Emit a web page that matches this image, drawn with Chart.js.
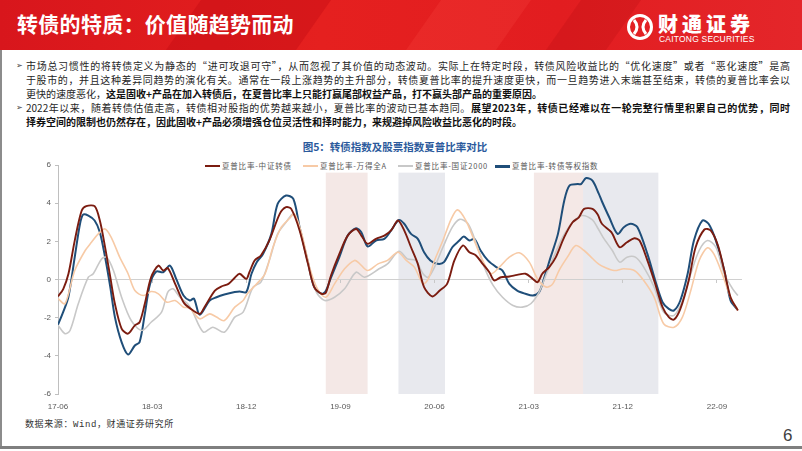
<!DOCTYPE html>
<html>
<head>
<meta charset="utf-8">
<script src="https://cdn.jsdelivr.net/npm/chart.js@4.4.1/dist/chart.umd.min.js"></script>
<style>
  body { margin: 0; width: 802px; height: 451px; position: relative; overflow: hidden; background: #fff;
         font-family: "Noto Sans CJK SC", "Noto Sans", sans-serif; }
  .banner { position: absolute; left: 0; top: 0; width: 802px; height: 50px; overflow: hidden;
            background: linear-gradient(90deg, #d8161c 0%, #e5201f 40%, #e21d20 70%, #e4262a 100%); }
  .banner .shape { position: absolute; top: -10px; height: 80px; transform: skewX(-35deg); }
  .banner h1 { position: absolute; left: 17px; top: 8px; margin: 0; font-size: 21px; font-weight: 700;
               color: #fff; letter-spacing: 0.3px; }
  .logo-cn { position: absolute; left: 658px; top: 9px; font-size: 20px; font-weight: 900; color: #fff; letter-spacing: 4px; }
  .logo-en { position: absolute; left: 659px; top: 34px; font-family: "Liberation Sans", Arial, sans-serif;
             font-size: 8.5px; color: #fff; letter-spacing: 0.2px; }
  .frame-left { position: absolute; left: 0; top: 50px; width: 2px; height: 398px; background: #8c8c8c; }
  .frame-bottom { position: absolute; left: 0; top: 446px; width: 802px; height: 3px; background: #7f7f7f; }
  .text { position: absolute; left: 26px; width: 764px; font-size: 10px; color: #262626; white-space: nowrap; line-height: 14px; }
  .text.full { text-align: justify; text-align-last: justify; }
  .text b { font-weight: 700; color: #111; }
  .bullet { position: absolute; left: 16px; font-size: 8px; color: #404040; }
  .ctitle { position: absolute; left: 0; width: 790px; top: 139px; text-align: center; font-size: 10.5px;
            font-weight: 700; color: #2b5a9c; }
  .legend { position: absolute; top: 160px; font-size: 7.5px; color: #595959; letter-spacing: 0.8px; line-height: 12px; }
  .legend i { position: absolute; left: -17px; top: 5px; width: 15px; height: 2px; }
  .source { position: absolute; left: 25px; top: 417px; font-size: 9px; color: #333; letter-spacing: 0.6px;
            font-family: "Liberation Mono", "Noto Sans CJK SC", monospace; }
  .page { position: absolute; left: 783px; top: 426px; font-family: "Liberation Sans", Arial, sans-serif;
          font-size: 17px; color: #404040; }
  #wrap { position: absolute; left: 0; top: 155px; width: 745px; height: 259px; }
</style>
</head>
<body>
<div class="banner">
  <div class="shape" style="left:180px;width:130px;background:rgba(190,10,16,0.35)"></div>
  <div class="shape" style="left:420px;width:90px;background:rgba(255,90,80,0.18)"></div>
  <div class="shape" style="left:560px;width:60px;background:rgba(180,10,14,0.25)"></div>
  <h1>转债的特质：价值随趋势而动</h1>
  <svg style="position:absolute;left:626px;top:13px" width="28" height="28" viewBox="0 0 28 28">
    <circle cx="14" cy="14" r="11.5" fill="none" stroke="#fff" stroke-width="3"/>
    <path d="M8 7 Q14 14 8 21 M20 7 Q14 14 20 21" fill="none" stroke="#fff" stroke-width="3"/>
  </svg>
  <div class="logo-cn">财通证券</div>
  <div class="logo-en">CAITONG SECURITIES</div>
</div>
<div class="frame-left"></div>
<div class="frame-bottom"></div>

<div class="bullet" style="top:59px">➢</div>
<div class="text full" style="top:59px">市场总习惯性的将转债定义为静态的“进可攻退可守”，从而忽视了其价值的动态波动。实际上在特定时段，转债风险收益比的“优化速度”或者“恶化速度”是高</div>
<div class="text full" style="top:73px">于股市的，并且这种差异同趋势的演化有关。通常在一段上涨趋势的主升部分，转债夏普比率的提升速度更快，而一旦趋势进入末端甚至结束，转债的夏普比率会以</div>
<div class="text" style="top:87px">更快的速度恶化，<b>这是固收+产品在加入转债后，在夏普比率上只能打赢尾部权益产品，打不赢头部产品的重要原因。</b></div>
<div class="bullet" style="top:101px">➢</div>
<div class="text full" style="top:101px">2022年以来，随着转债估值走高，转债相对股指的优势越来越小，夏普比率的波动已基本趋同。<b>展望2023年，转债已经难以在一轮完整行情里积累自己的优势，同时</b></div>
<div class="text" style="top:115px"><b>择券空间的限制也仍然存在，因此固收+产品必须增强仓位灵活性和择时能力，来规避掉风险收益比恶化的时段。</b></div>

<div class="ctitle">图5：转债指数及股票指数夏普比率对比</div>
<div class="legend" style="left:222px"><i style="background:#7b1c10"></i>夏普比率-中证转债</div>
<div class="legend" style="left:320px"><i style="background:#f7caa6"></i>夏普比率-万得全A</div>
<div class="legend" style="left:415px"><i style="background:#c8c8c8"></i>夏普比率-国证2000</div>
<div class="legend" style="left:512px"><i style="background:#1f4e79;height:2.5px"></i>夏普比率-转债等权指数</div>

<div id="wrap"><canvas id="chart" width="745" height="259"></canvas></div>
<div class="source">数据来源：Wind，财通证券研究所</div>
<div class="page">6</div>

<script>
// x values are months counted from 2017-06
const tickMonths = [0, 9, 18, 27, 36, 45, 54, 63];
const tickLabels = ["17-06", "18-03", "18-12", "19-09", "20-06", "21-03", "21-12", "22-09"];
const xMin = 0;
const xMax = 65.3;

// shaded periods
const bandStarts = [25.6, 32.55, 45.5, 50.2];
const bandEnds = [29.6, 37.0, 50.2, 57.4];
const bandColors = ["#f4e8e6", "#e8e9ee", "#f4e8e6", "#e8e9ee"];
const bandTop = 5.6;
const bandBottom = -6;

const seriesNames = ["夏普比率-中证转债", "夏普比率-万得全A", "夏普比率-国证2000", "夏普比率-转债等权指数"];

const cbX = [0, 0.5, 1.0, 1.6, 2.26, 2.7, 3.5, 4.0, 4.5, 5.0, 5.44, 6.08, 6.7, 7.35, 7.8, 8.3, 8.9, 9.6, 10.05, 10.5,
  11.2, 12.0, 12.6, 13.55, 14.0, 15.0, 15.6, 16.3, 16.9, 17.37, 18.0, 18.3, 18.8, 19.4, 20.2, 21.2, 21.8, 22.3, 23.1,
  23.9, 24.5, 25.2, 25.6, 26.1, 26.9, 27.7, 28.5, 29.0, 29.6, 30.4, 31.2, 31.85, 32.5, 33.1, 33.75, 34.4, 35.0, 35.8,
  36.5, 37.2, 37.9, 38.7, 39.33, 39.96, 40.6, 41.24, 41.7, 42.35, 43.15, 43.9, 44.7, 45.4, 45.85, 46.3, 46.97, 47.6,
  48.4, 49.2, 49.8, 50.3, 51.1, 51.6, 52.0, 52.9, 53.7, 54.4, 55.1, 55.6, 56.35, 57.1, 57.8, 58.4, 58.9, 59.5, 60.3,
  60.96, 61.8, 62.4, 63.1, 63.7, 64.3, 65.0];
const cbY = [-0.89, -0.5, 0.3, 2.04, 3.6, 3.84, 3.84, 3.09, 1.7, 0.12, -1.27, -2.57, -2.84, -2.4, -2.24, -1.27, 0.12, 0.73, 0.47, 0.6,
  -0.23, -1.19, -1.5, -1.8, -1.45, -0.58, -0.37, -0.23, 0.09, 0.3, 0.03, 0.38, 1.0, 1.26, 2.04, 3.44, 3.79, 3.7, 2.57,
  0.82, -0.4, -0.75, -0.7, 0.21, 1.34, 2.3, 2.65, 2.3, 1.87, 2.13, 2.3, 2.57, 3.09, 2.57, 1.69, 0.82, -0.4, -0.89,
  -0.58, -0.23, 1.0, 1.78, 1.43, 1.26, 0.82, 0.38, -0.05, 0.12, 0.16, 0.24, 0.3, 0.03, -0.14, 0.3, 0.65, 1.17,
  2.22, 3.0, 3.26, 3.7, 3.7, 3.4, 2.92, 2.48, 1.69, 1.95, 2.16, 2.04, 1.0, -0.23, -1.45, -1.97, -2.1, -1.54, -0.05,
  1.69, 2.62, 2.57, 1.78, 0.47, -0.93, -1.62];

const windX = [0, 0.67, 1.6, 2.6, 3.2, 3.85, 4.5, 5.1, 5.9, 6.7, 7.35, 8.15, 8.9, 9.6, 10.4, 11.2, 12.0, 12.6, 13.55, 14.5,
  15.15, 15.9, 16.9, 17.7, 18.1, 19.0, 19.8, 20.55, 21.35, 22.1, 22.6, 23.3, 24.05, 24.8, 25.6, 26.44, 27.4, 28.35,
  28.8, 29.6, 30.6, 31.5, 32.5, 33.3, 34.07, 34.9, 35.4, 36.0, 36.8, 37.6, 38.2, 39.0, 39.8, 40.6, 41.4, 42.2, 43.15,
  44.1, 45.06, 45.85, 46.7, 47.3, 47.9, 48.7, 49.5, 50.3, 51.1, 51.7, 52.2, 53.17, 54.1, 55.1, 56.0, 57.0, 57.9, 58.9,
  59.7, 60.5, 61.3, 62.1, 62.7, 63.5, 64.3, 65.0];
const windY = [-1.0, -1.27, 0.47, 1.52, 1.95, 2.39, 2.65, 2.2, 1.17, 0.3, -0.58, -0.84, -0.63, -0.75, -1.19, -1.1, -1.45, -1.5, -2.06, -1.8,
  -1.97, -2.15, -1.45, -1.1, -0.75, -0.23, 0.3, 1.69, 2.74, 3.18, 3.44, 2.39, 0.65, -0.49, -0.93, -0.23, 0.56, 1.0,
  0.85, 0.47, 0.82, 1.0, 1.43, 1.0, 0.65, -0.23, 0.03, 1.0, 2.04, 3.18, 3.65, 3.09, 2.04, 1.0, 0.3, 0.65, 1.17,
  1.4, 0.91, 0.03, -0.4, -0.23, 0.47, 1.17, 1.78, 1.52, 1.1, 0.8, 0.65, 0.47, 0.56, 0.47, -0.05, -0.93, -2.32, -2.5,
  -1.97, -0.58, 1.0, 1.66, 1.34, 0.3, -0.93, -1.62];

const gz2000X = [0, 0.67, 1.15, 1.94, 2.9, 3.37, 4.17, 4.65, 5.3, 6.08, 7.0, 8.0, 8.9, 9.9, 10.5, 11.0, 11.65, 12.4, 12.8, 13.9,
  14.8, 15.9, 16.9, 17.7, 18.65, 19.4, 20.2, 21.0, 21.8, 22.5, 23.1, 23.9, 24.7, 25.5, 26.44, 27.4, 28.5, 29.3, 30.7,
  31.5, 32.6, 33.4, 34.2, 34.9, 35.4, 36.0, 36.8, 37.7, 38.4, 39.2, 40.0, 40.76, 41.6, 42.5, 43.5, 44.4, 45.2, 46.0,
  46.7, 47.45, 48.25, 49.2, 50.1, 51.1, 51.6, 52.1, 53.0, 53.7, 54.4, 55.2, 56.0, 57.0, 57.9, 58.9, 59.7, 60.5, 61.3,
  62.1, 62.9, 63.7, 64.5, 65.0];
const gz2000Y = [-2.4, -2.84, -2.67, -1.27, 0.12, 0.3, 1.08, 1.17, 0.47, -0.93, -2.15, -2.67, -2.24, -1.71, -0.66, -0.49, -0.93, -1.27, -1.6, -2.76,
  -2.5, -2.76, -1.97, -1.71, -0.4, -0.14, 1.0, 2.39, 3.0, 3.44, 2.65, 0.82, -0.66, -1.1, -0.93, -0.49, 0.38, 0.12, 0.56,
  0.82, 1.48, 1.08, 1.0, 0.3, 0.12, 0.65, 1.69, 2.74, 3.15, 2.92, 1.87, 0.65, -0.31, -0.93, -1.36, -1.45, -1.27, -0.66,
  0.3, 1.26, 2.22, 3.0, 3.35, 3.12, 2.7, 2.22, 1.52, 0.91, 1.17, 1.17, 0.65, -0.4, -1.71, -1.88, -1.1, 0.3, 1.52,
  2.04, 1.69, 0.3, -0.49, -0.84];

const cbEqX = [0, 0.5, 1.0, 1.6, 2.1, 2.4, 2.9, 3.5, 4.0, 4.5, 5.0, 5.44, 6.08, 6.7, 7.35, 7.8, 8.3, 8.8, 9.4, 10.05,
  10.7, 11.3, 12.0, 12.6, 13.0, 13.55, 14.5, 15.15, 15.9, 16.9, 17.37, 18.0, 18.5, 19.0, 19.6, 20.4, 21.0, 21.8, 22.5,
  23.1, 23.9, 24.5, 25.2, 25.6, 26.1, 26.9, 27.7, 28.5, 29.0, 29.6, 30.4, 31.2, 31.85, 32.6, 33.1, 33.75, 34.4, 35.0,
  35.6, 36.3, 36.9, 37.7, 38.37, 38.8, 39.33, 39.8, 40.4, 41.1, 41.9, 42.5, 43.15, 43.9, 44.7, 45.4, 46.0, 46.5, 47.1,
  47.8, 48.4, 48.9, 49.7, 50.0, 50.5, 51.1, 51.7, 52.0, 52.7, 53.5, 54.1, 54.76, 55.4, 56.35, 57.1, 57.8, 58.4, 58.9,
  59.5, 60.2, 60.8, 61.6, 62.2, 62.9, 63.7, 64.3, 64.9];
const cbEqY = [-2.37, -1.7, -0.9, 1.17, 2.9, 3.4, 3.35, 3.09, 2.48, 1.17, -0.4, -1.97, -3.28, -3.93, -3.46, -3.28, -1.8, -0.23, 0.42, 0.38,
  0.73, 0.03, -0.84, -1.1, -1.0, -1.85, -1.1, -0.93, -0.79, -0.66, -0.63, -0.66, 0.3, 0.91, 1.34, 2.39, 3.96, 4.4, 4.22,
  2.74, 0.91, -0.4, -0.75, -0.6, 0.1, 1.17, 2.3, 2.69, 2.48, 1.73, 2.04, 2.13, 2.57, 3.12, 2.92, 2.39, 2.13, 1.43,
  1.0, 0.82, 0.91, 1.69, 2.04, 2.25, 2.04, 2.13, 1.52, 1.0, 0.65, 0.47, -0.23, -0.58, -0.75, -0.84, -0.66, 0.12, 1.17,
  2.39, 4.13, 4.92, 5.0, 5.0, 5.32, 5.18, 4.5, 4.1, 3.26, 2.39, 2.74, 2.92, 2.74, 1.34, -0.05, -1.19, -1.54, -1.62,
  -1.1, 0.3, 2.04, 3.09, 2.92, 2.04, 0.47, -1.1, -1.54];

const toPoints = (xs, ys) => xs.map((m, i) => ({ x: m, y: ys[i] }));

const bandPlugin = {
  id: "bands",
  beforeDraw(chart) {
    const { ctx, scales } = chart;
    const x = scales.x, y = scales.y;
    const yTop = y.getPixelForValue(bandTop);
    const yBot = y.getPixelForValue(bandBottom);
    ctx.save();
    bandStarts.forEach((s, i) => {
      const x0 = x.getPixelForValue(s);
      const x1 = x.getPixelForValue(bandEnds[i]);
      ctx.fillStyle = bandColors[i];
      ctx.fillRect(x0, yTop, x1 - x0, yBot - yTop);
    });
    ctx.restore();
  },
};

const setTicks = (axis) => {
  axis.ticks = tickMonths.map((v) => ({ value: v }));
};

const tickFont = { family: "Liberation Sans, Arial, sans-serif", size: 8 };

new Chart(document.getElementById("chart"), {
  type: "line",
  data: {
    datasets: [
      { label: seriesNames[0], data: toPoints(cbX, cbY), borderColor: "#7b1c10", borderWidth: 1.9 },
      { label: seriesNames[1], data: toPoints(windX, windY), borderColor: "#f7caa6", borderWidth: 1.6 },
      { label: seriesNames[2], data: toPoints(gz2000X, gz2000Y), borderColor: "#c8c8c8", borderWidth: 1.6 },
      { label: seriesNames[3], data: toPoints(cbEqX, cbEqY), borderColor: "#1f4e79", borderWidth: 2 },
    ],
  },
  options: {
    responsive: false,
    animation: false,
    elements: { point: { radius: 0 }, line: { tension: 0.3, fill: false } },
    layout: { padding: { top: 10, right: 4, left: 0, bottom: 0 } },
    plugins: { legend: { display: false }, tooltip: { enabled: false } },
    scales: {
      x: {
        type: "linear",
        min: xMin,
        max: xMax,
        afterBuildTicks: setTicks,
        afterFit: (a) => { a.height = 20; },
        grid: { display: false, drawTicks: false },
        border: { display: false },
        ticks: {
          padding: 8,
          color: "#595959",
          font: tickFont,
          maxRotation: 0,
          callback: (v) => tickLabels[tickMonths.indexOf(v)],
        },
      },
      x2: {
        type: "linear",
        axis: "x",
        position: { y: 0 },
        min: xMin,
        max: xMax,
        afterBuildTicks: setTicks,
        grid: { drawOnChartArea: false, tickLength: 3, color: "#c8c8c8" },
        border: { color: "#d0d0d0", width: 1 },
        ticks: { display: false },
      },
      y: {
        min: -6,
        max: 6,
        afterFit: (a) => { a.width = 58; },
        grid: { drawOnChartArea: false, tickLength: 3, color: "#bfbfbf" },
        border: { color: "#bfbfbf" },
        ticks: { stepSize: 2, padding: 4, color: "#595959", font: tickFont },
      },
    },
  },
  plugins: [bandPlugin],
});
</script>
</body>
</html>
